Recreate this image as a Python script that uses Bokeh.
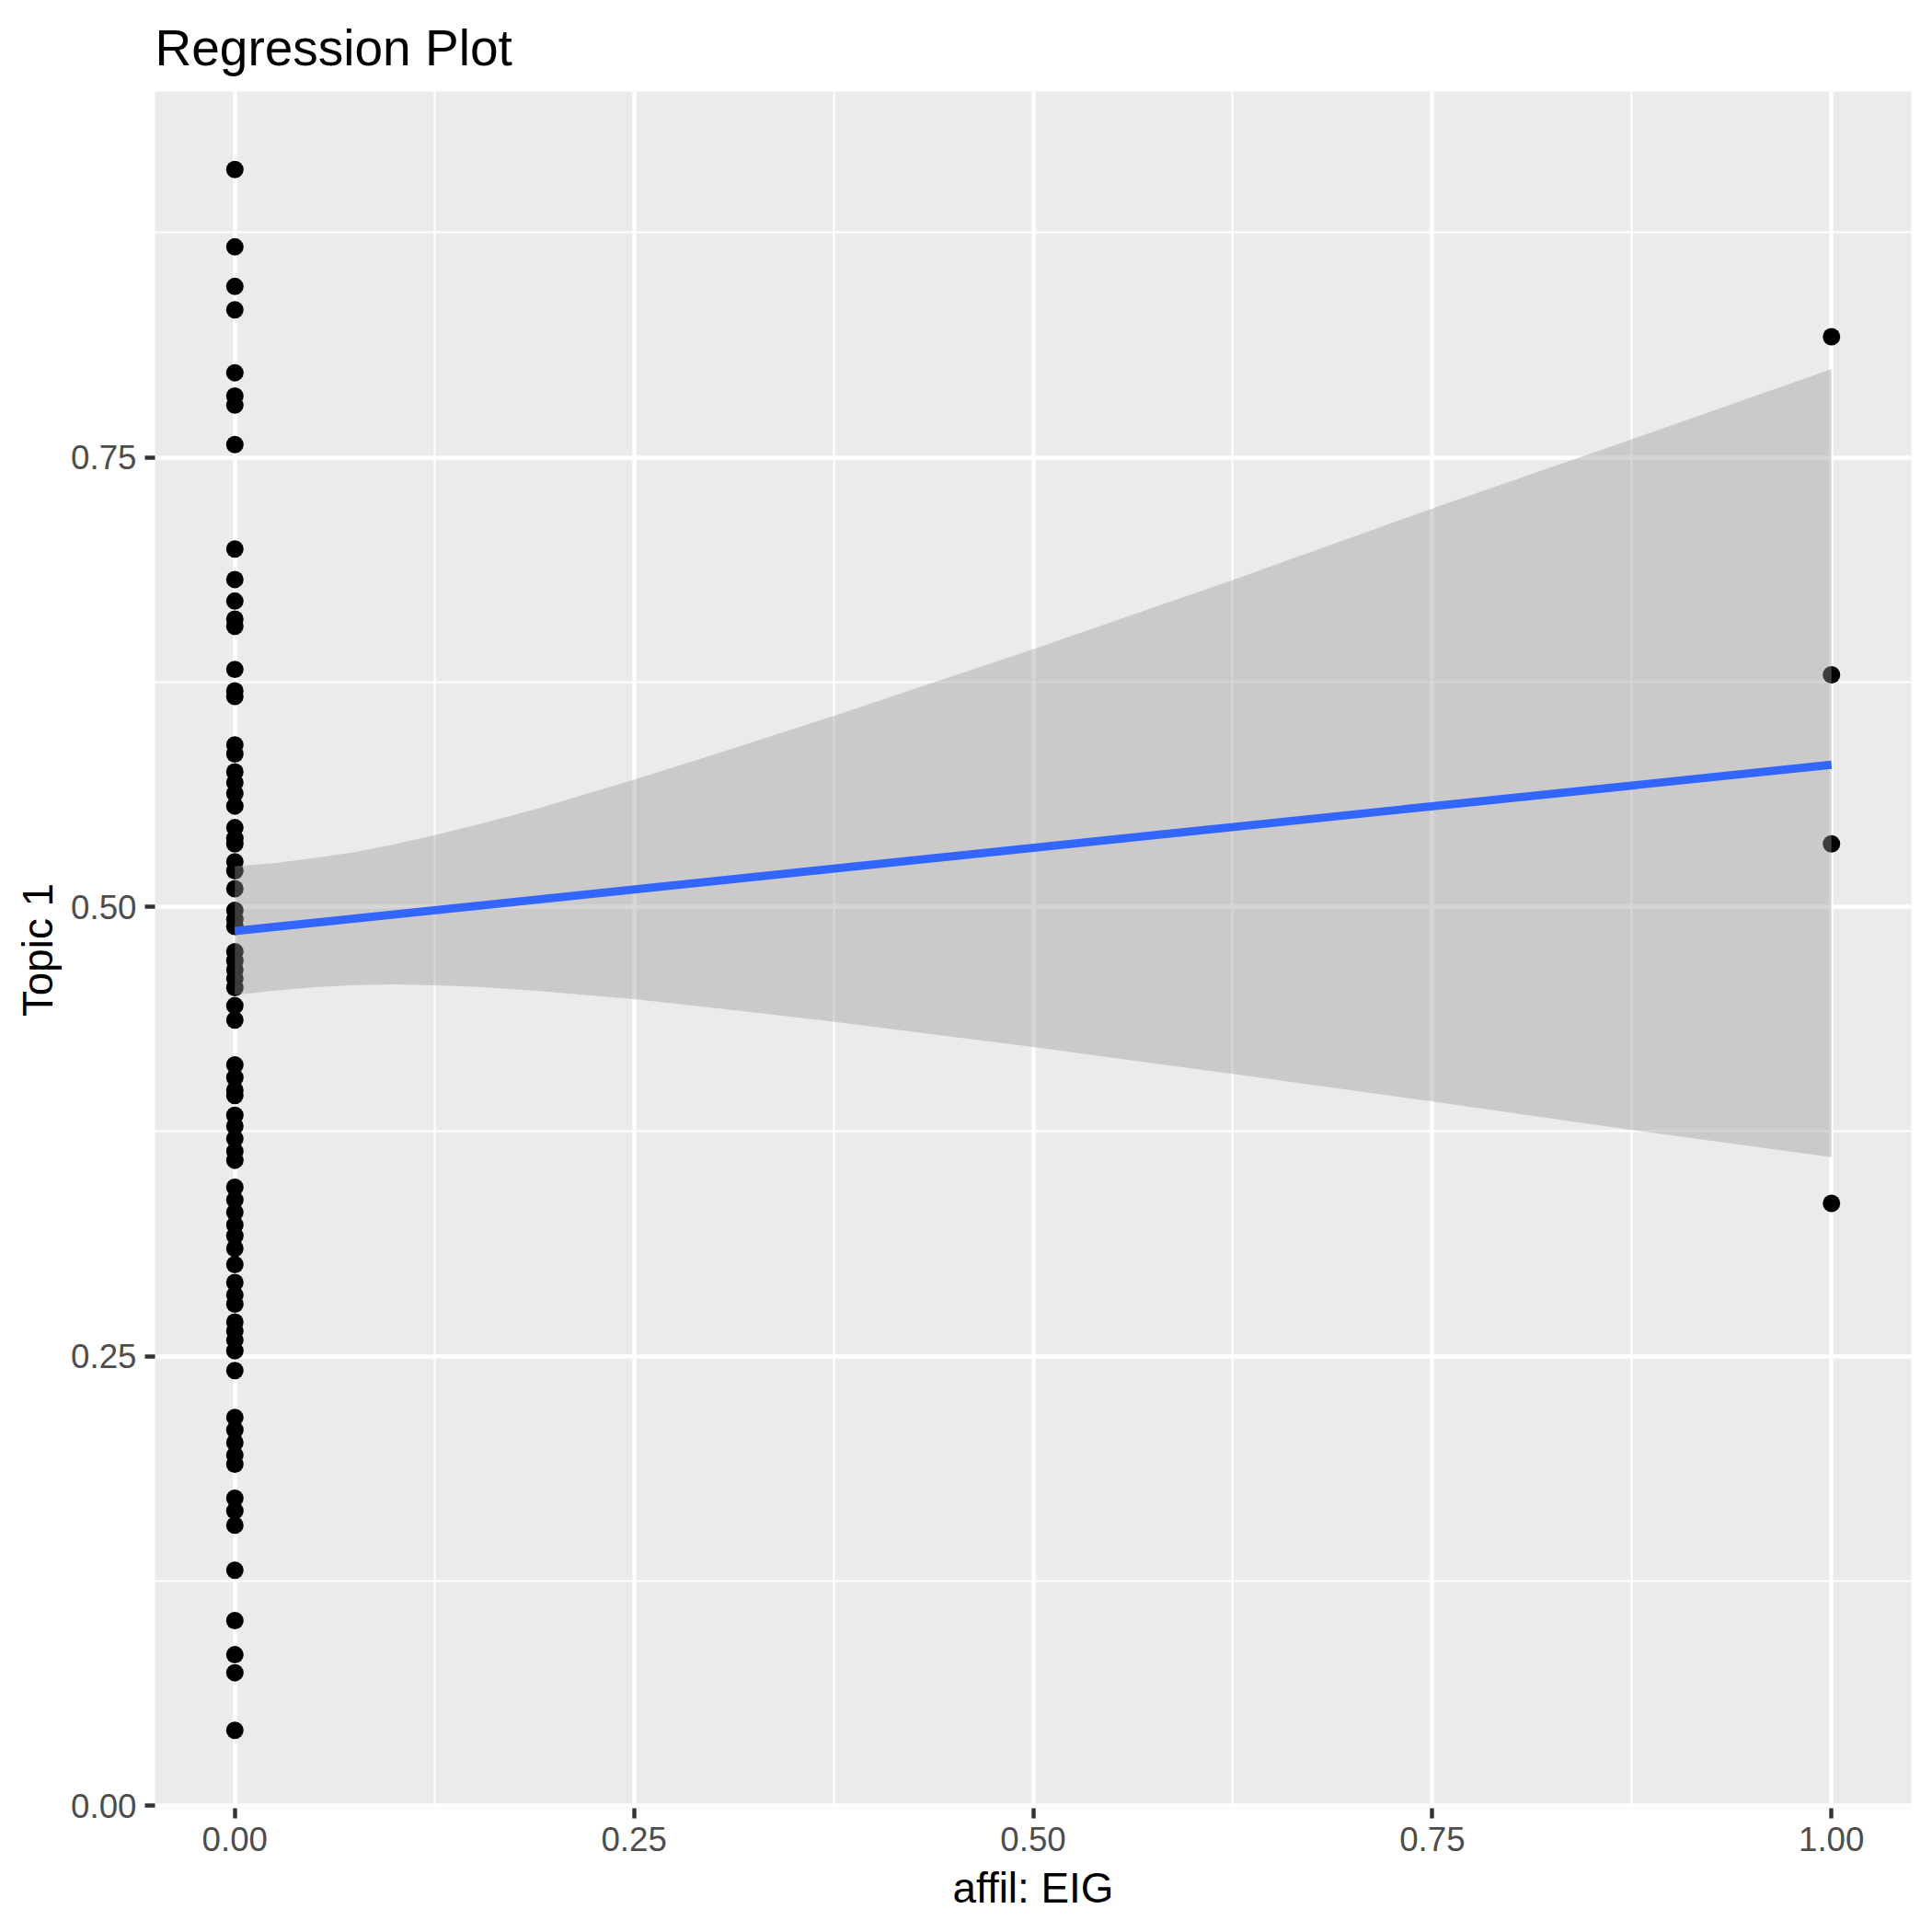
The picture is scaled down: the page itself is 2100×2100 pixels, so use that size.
from bokeh.plotting import figure
from bokeh.models import Range1d, FixedTicker, ColumnDataSource
from bokeh.embed import file_html
from bokeh.resources import INLINE

# ---- data ----
topic1_eig0 = [0.910, 0.867, 0.845, 0.832, 0.797, 0.784, 0.779, 0.757, 0.699, 0.682,
               0.670, 0.660, 0.656, 0.632, 0.620, 0.617, 0.590, 0.585, 0.575, 0.569,
               0.563, 0.556, 0.544, 0.538, 0.535, 0.525, 0.520, 0.510, 0.498, 0.493,
               0.489, 0.475, 0.470, 0.465, 0.460, 0.455, 0.445, 0.437, 0.412, 0.405,
               0.398, 0.395, 0.384, 0.378, 0.371, 0.364, 0.359, 0.344, 0.337, 0.330,
               0.323, 0.317, 0.310, 0.301, 0.291, 0.284, 0.279, 0.269, 0.264, 0.259,
               0.253, 0.242, 0.216, 0.209, 0.202, 0.195, 0.190, 0.171, 0.164, 0.156,
               0.131, 0.103, 0.084, 0.074, 0.042]
topic1_eig1 = [0.817, 0.629, 0.535, 0.335]

fit_x = [0.0, 1.0]
fit_y = [0.4865, 0.5790]

band_x = [0.0, 0.025, 0.05, 0.075, 0.1, 0.125, 0.15, 0.1875, 0.25, 0.3125,
          0.375, 0.5, 0.625, 0.75, 0.875, 1.0]
band_upper = [0.5226, 0.5242, 0.5272, 0.5304, 0.5347, 0.5398, 0.5452, 0.5540, 0.5706, 0.5882,
              0.6061, 0.6432, 0.6817, 0.7215, 0.7600, 0.7990]
band_lower = [0.4509, 0.4534, 0.4553, 0.4564, 0.4568, 0.4563, 0.4555, 0.4533, 0.4486, 0.4425,
              0.4361, 0.4220, 0.4070, 0.3917, 0.3759, 0.3608]

x_ticks = [0.0, 0.25, 0.5, 0.75, 1.0]
x_tick_labels = ["0.00", "0.25", "0.50", "0.75", "1.00"]
x_minor = [0.125, 0.375, 0.625, 0.875]
y_ticks = [0.0, 0.25, 0.5, 0.75]
y_tick_labels = ["0.00", "0.25", "0.50", "0.75"]
y_minor = [0.125, 0.375, 0.625, 0.875]

title_text = "Regression Plot"
x_title = "affil: EIG"
y_title = "Topic 1"

# ---- ranges (ggplot-style 5% expansion) ----
all_y = topic1_eig0 + topic1_eig1 + band_upper + band_lower
ymin, ymax = min(all_y), max(all_y)
ypad = 0.05 * (ymax - ymin)
xmin, xmax = 0.0, 1.0
xpad = 0.05 * (xmax - xmin)

FONT = "Liberation Sans"

p = figure(width=2092, height=2092, output_backend="svg", toolbar_location=None,
           x_range=Range1d(xmin - xpad, xmax + xpad),
           y_range=Range1d(ymin - ypad, ymax + ypad),
           min_border_left=168, min_border_right=15,
           min_border_top=99, min_border_bottom=127,
           background_fill_color="#EBEBEB", border_fill_color="white",
           outline_line_color=None)

# title
p.title.text = title_text
p.title.text_font = FONT
p.title.text_font_size = "55px"
p.title.text_font_style = "normal"
p.title.text_color = "black"
p.title.align = "left"
p.title.vertical_align = "top"
p.title.standoff = 30

# axes
for ax, ticks, minor, labels, ttl, stand in (
        (p.xaxis[0], x_ticks, x_minor, x_tick_labels, x_title, 12),
        (p.yaxis[0], y_ticks, y_minor, y_tick_labels, y_title, 7)):
    ax.ticker = FixedTicker(ticks=ticks, minor_ticks=minor)
    ax.major_label_overrides = {t: l for t, l in zip(ticks, labels)}
    ax.axis_line_color = None
    ax.major_tick_line_color = "#333333"
    ax.major_tick_line_width = 4.4
    ax.major_tick_out = 11
    ax.major_tick_in = 0
    ax.minor_tick_line_color = None
    ax.major_label_text_font = FONT
    ax.major_label_text_font_size = "36.7px"
    ax.major_label_text_color = "#4D4D4D"
    ax.major_label_standoff = 9
    ax.axis_label = ttl
    ax.axis_label_text_font = FONT
    ax.axis_label_text_font_size = "45.8px"
    ax.axis_label_text_font_style = "normal"
    ax.axis_label_text_color = "black"
    ax.axis_label_standoff = stand

# grid
for g in (p.xgrid[0], p.ygrid[0]):
    g.grid_line_color = "white"
    g.grid_line_width = 4.4
    g.minor_grid_line_color = "white"
    g.minor_grid_line_width = 2.2

# points (drawn first, band goes over them like ggplot)
pts = ColumnDataSource(dict(
    x=[0.0] * len(topic1_eig0) + [1.0] * len(topic1_eig1),
    y=topic1_eig0 + topic1_eig1))
p.scatter("x", "y", source=pts, size=19, fill_color="black", line_color=None)

# confidence band
p.patch(band_x + band_x[::-1], band_upper + band_lower[::-1],
        fill_color="#999999", fill_alpha=0.4, line_color=None)

# regression line
p.line(fit_x, fit_y, line_color="#3366FF", line_width=8.9)

open("out.html", "w").write(file_html(p, INLINE))
